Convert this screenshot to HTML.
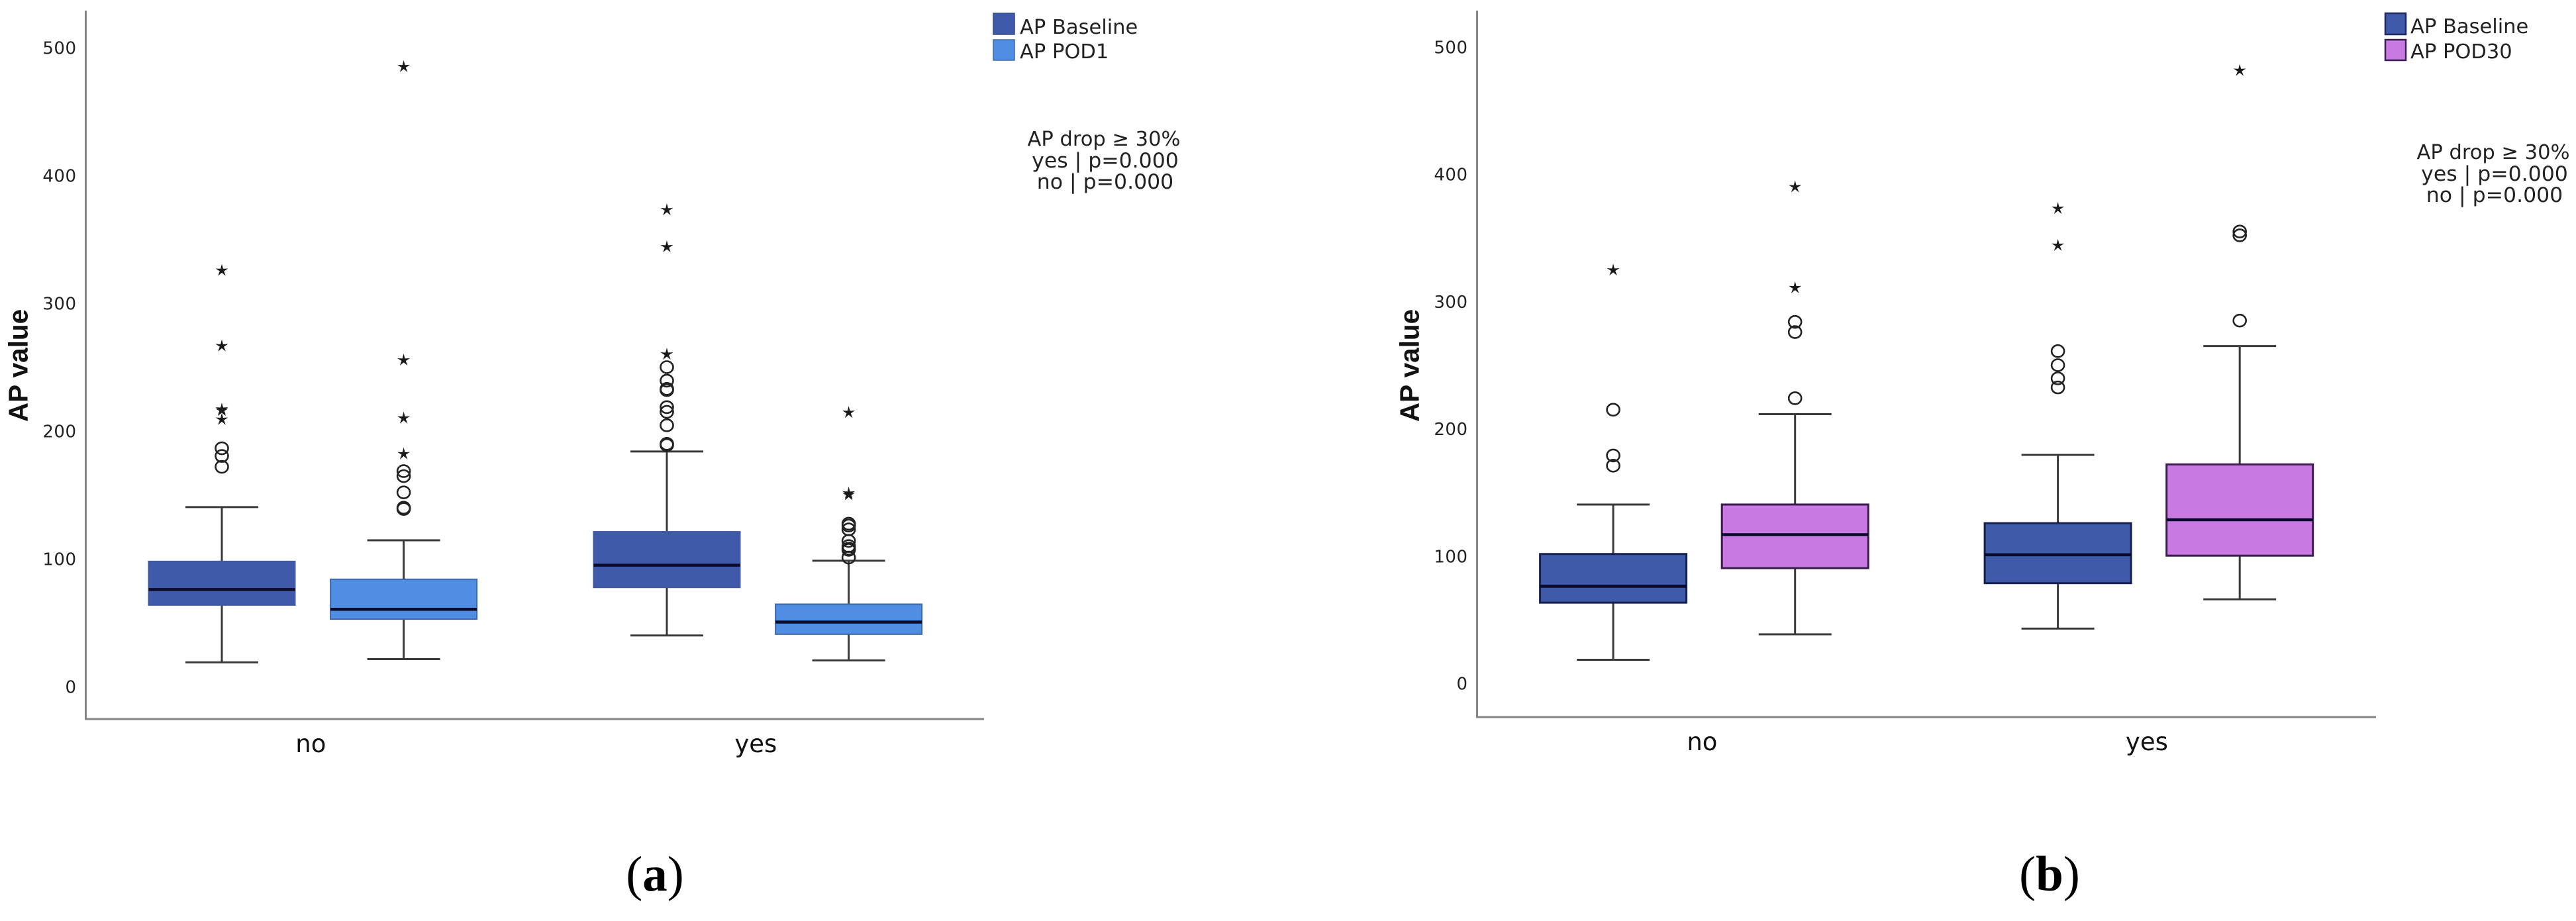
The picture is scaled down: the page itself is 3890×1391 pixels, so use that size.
<!DOCTYPE html>
<html lang="en">
<head>
<meta charset="utf-8">
<title>AP value box plots</title>
<style>
html,body{margin:0;padding:0;background:#fff;width:3890px;height:1391px;overflow:hidden}
svg{display:block}
.tick{font:26px "DejaVu Sans",sans-serif;fill:#222;letter-spacing:.5px}
.cat{font:37px "DejaVu Sans",sans-serif;fill:#111}
.ytitle{font:bold 40.5px "Liberation Sans",sans-serif;fill:#111}
.leg{font:30.5px "DejaVu Sans",sans-serif;fill:#222}
.note{font:30.5px "DejaVu Sans",sans-serif;fill:#222}
.panel{font:75px "Liberation Serif",serif;fill:#000}
</style>
</head>
<body>
<svg id="figure" width="3890" height="1391" viewBox="0 0 3890 1391" xmlns="http://www.w3.org/2000/svg">
  <rect x="0" y="0" width="3890" height="1391" fill="#fff"/>
  <g id="chart-a"></g>
  <g id="chart-b"></g>

  <g>
    <rect x="1500" y="20" width="32" height="32" fill="#3f5aa8" stroke="#34498f" stroke-width="1.5"/>
    <text class="leg" x="1540" y="51">AP Baseline</text>
    <rect x="1500" y="60" width="32" height="31" fill="#4f8ee2" stroke="#3f68a8" stroke-width="1.5"/>
    <text class="leg" x="1540" y="88">AP POD1</text>
  </g>
  <g text-anchor="middle">
    <text class="note" x="1667" y="220">AP drop ≥ 30%</text>
    <text class="note" x="1669" y="253" style="font-size:31.5px">yes | p=0.000</text>
    <text class="note" x="1669" y="285" style="font-size:31.5px">no | p=0.000</text>
  </g>

  <g>
    <rect x="3602" y="20" width="31" height="32" fill="#3f5aa8" stroke="#1f2a60" stroke-width="2.5"/>
    <text class="leg" x="3640" y="50">AP Baseline</text>
    <rect x="3602" y="60" width="31" height="31" fill="#c87ae2" stroke="#3a2050" stroke-width="2.5"/>
    <text class="leg" x="3640" y="88">AP POD30</text>
  </g>
  <g text-anchor="middle">
    <text class="note" x="3765" y="240">AP drop ≥ 30%</text>
    <text class="note" x="3767" y="273" style="font-size:31.5px">yes | p=0.000</text>
    <text class="note" x="3767" y="305" style="font-size:31.5px">no | p=0.000</text>
  </g>

  <text class="panel" x="989" y="1345" text-anchor="middle">(<tspan font-weight="bold">a</tspan>)</text>
  <text class="panel" x="3095" y="1345" text-anchor="middle">(<tspan font-weight="bold">b</tspan>)</text>
</svg>

<script>
// Shared axis values
const yTicks = [0, 100, 200, 300, 400, 500];
const categories = ['no', 'yes'];

// Chart (a): box order = no/Baseline, no/POD1, yes/Baseline, yes/POD1
const aQ1 = [63.8, 52.8, 77.6, 41];
const aMedian = [76, 60.5, 95, 50.5];
const aQ3 = [98, 84, 121.2, 64.5];
const aWhiskerLow = [19, 21.5, 40, 20.5];
const aWhiskerHigh = [140.5, 114.5, 184, 98.5];
const aCircles = [
  [186.5, 180.5, 172],
  [168.6, 164.7, 152, 140, 139],
  [250, 239.4, 233, 232, 218.7, 215, 204.5, 190, 189],
  [127.5, 126, 123, 114, 110, 108, 107, 101]
];
const aStars = [
  [325.6, 266.5, 217, 216, 209],
  [485, 255.4, 210, 182],
  [373, 344, 260],
  [214.4, 151.3, 150]
];

// Chart (b): box order = no/Baseline, no/POD30, yes/Baseline, yes/POD30
const bQ1 = [63.4, 90.5, 78.7, 100.3];
const bMedian = [76.2, 116.8, 101, 128.5];
const bQ3 = [101.6, 140.5, 125.8, 172];
const bWhiskerLow = [18.5, 38.5, 43, 66];
const bWhiskerHigh = [140.5, 211.5, 179.5, 265];
const bCircles = [
  [215, 179, 171],
  [284, 276, 224],
  [261, 250, 239.6, 232.5],
  [355, 352, 285]
];
const bStars = [
  [324.6],
  [390, 310.7],
  [373, 344],
  [481.5]
];

const NS = 'http://www.w3.org/2000/svg';

function make(tag, attrs, parent) {
  const node = document.createElementNS(NS, tag);
  for (const key in attrs) node.setAttribute(key, attrs[key]);
  parent.appendChild(node);
  return node;
}

function starPoints(cx, cy, outer, inner) {
  const pts = [];
  for (let i = 0; i < 10; i++) {
    const r = i % 2 === 0 ? outer : inner;
    const ang = -Math.PI / 2 + i * Math.PI / 5;
    pts.push((cx + r * Math.cos(ang)).toFixed(2) + ',' + (cy + r * Math.sin(ang)).toFixed(2));
  }
  return pts.join(' ');
}

function drawChart(root, frame, stats) {
  const yScale = v => frame.zeroY - frame.unit * v;
  const boxCenter = i => {
    const group = Math.floor(i / 2);
    const side = i % 2 === 0 ? -1 : 1;
    return frame.groupStart + group * frame.groupStep + side * frame.offset;
  };

  const yAxis = make('line', {x1: frame.left, x2: frame.left, y1: frame.top, y2: frame.bottom, stroke: '#858585', 'stroke-width': 3}, root);
  
  

  const xAxis = make('line', {x1: frame.left - 1.5, x2: frame.right, y1: frame.bottom, y2: frame.bottom, stroke: '#858585', 'stroke-width': 3}, root);
  
  

  yTicks.forEach(t => {
    const label = make('text', {x: frame.left - 14, y: yScale(t) + 9.5, 'text-anchor': 'end', class: 'tick'}, root);
    label.textContent = t;
    
    
  });

  categories.forEach((c, i) => {
    const label = make('text', {x: frame.groupStart + i * frame.groupStep - 3, y: frame.bottom + 50, 'text-anchor': 'middle', class: 'cat'}, root);
    label.textContent = c;
    
    
  });

  const title = make('text', {transform: 'translate(' + (frame.left - 88) + ',' + frame.titleY + ') rotate(-90)', 'text-anchor': 'middle', class: 'ytitle'}, root);
  title.textContent = 'AP value';
  
  

  stats.q1.forEach((_, i) => {
    const cx = boxCenter(i);
    const fill = i % 2 === 0 ? frame.colorA : frame.colorB;
    const border = i % 2 === 0 ? frame.borderA : frame.borderB;

    const stem = make('line', {x1: cx, x2: cx, y1: yScale(stats.high[i]), y2: yScale(stats.low[i]), stroke: '#3a3a3a', 'stroke-width': 3}, root);
    
    

    const capTop = make('line', {x1: cx - 55, x2: cx + 55, y1: yScale(stats.high[i]), y2: yScale(stats.high[i]), stroke: '#3a3a3a', 'stroke-width': 3}, root);
    
    

    const capLow = make('line', {x1: cx - 55, x2: cx + 55, y1: yScale(stats.low[i]), y2: yScale(stats.low[i]), stroke: '#3a3a3a', 'stroke-width': 3}, root);
    
    

    const box = make('rect', {x: cx - 110.5, width: 221, y: yScale(stats.q3[i]), height: yScale(stats.q1[i]) - yScale(stats.q3[i]), fill: fill, stroke: border, 'stroke-width': frame.borderWidth}, root);
    
    

    const median = make('line', {x1: cx - 110.5, x2: cx + 110.5, y1: yScale(stats.median[i]), y2: yScale(stats.median[i]), stroke: '#0a0a2a', 'stroke-width': 4.5}, root);
    
    

    stats.circles[i].forEach(v => {
      const dot = make('ellipse', {cx: cx, cy: yScale(v), rx: 9.5, ry: 9, fill: 'none', stroke: '#222', 'stroke-width': 2.6}, root);
      
      
    });

    stats.stars[i].forEach(v => {
      const star = make('polygon', {points: starPoints(cx, yScale(v), 10, 3.3), fill: '#1a1a1a'}, root);
      
      
    });
  });
}

drawChart(document.getElementById('chart-a'),
  {left: 129.5, right: 1486, top: 16, bottom: 1086, zeroY: 1037, unit: 1.93,
   groupStart: 472.3, groupStep: 672, offset: 137.3, titleY: 552,
   colorA: '#3f5aa8', colorB: '#4f8ee2', borderA: '#3f58a6', borderB: '#3c68a8', borderWidth: 2},
  {q1: aQ1, median: aMedian, q3: aQ3, low: aWhiskerLow, high: aWhiskerHigh, circles: aCircles, stars: aStars});

drawChart(document.getElementById('chart-b'),
  {left: 2230.5, right: 3588, top: 16, bottom: 1083, zeroY: 1032, unit: 1.922,
   groupStart: 2573.4, groupStep: 671.5, offset: 137.3, titleY: 552,
   colorA: '#3f5aa8', colorB: '#c87ae2', borderA: '#16204e', borderB: '#3a1c4e', borderWidth: 3},
  {q1: bQ1, median: bMedian, q3: bQ3, low: bWhiskerLow, high: bWhiskerHigh, circles: bCircles, stars: bStars});
</script>
</body>
</html>
